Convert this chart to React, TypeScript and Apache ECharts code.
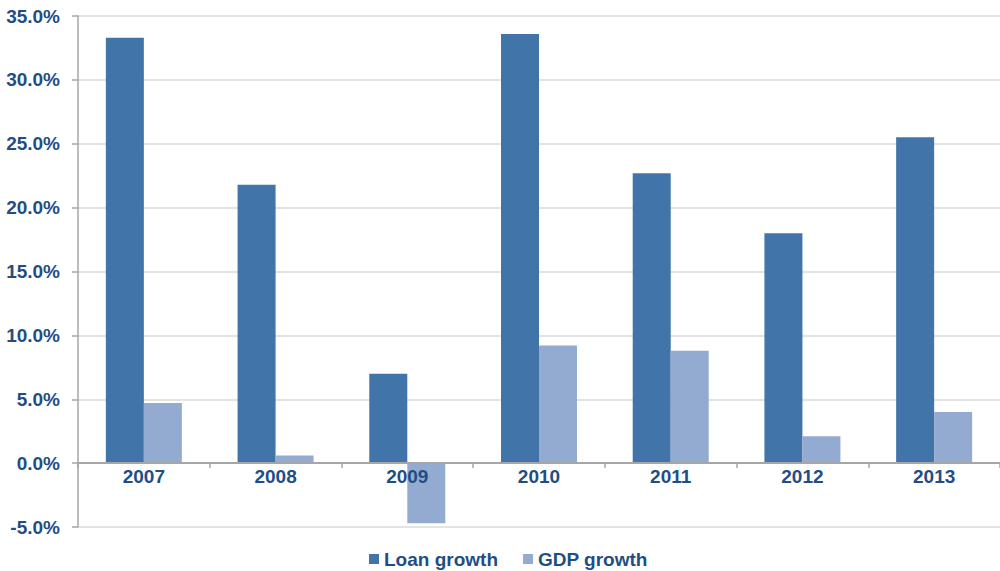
import React, { useEffect, useRef } from "react";
import * as echarts from "echarts";

const categories = ["2007", "2008", "2009", "2010", "2011", "2012", "2013"];
const loanGrowth = [33.3, 21.8, 7.0, 33.6, 22.7, 18.0, 25.5];
const gdpGrowth = [4.7, 0.6, -4.7, 9.2, 8.8, 2.1, 4.0];
const seriesNames = ["Loan growth", "GDP growth"];

const TEXT = "#1F4E86";
const AXIS = "#a6a6a6";

export default function App() {
  const ref = useRef<HTMLDivElement>(null);
  useEffect(() => {
    if (!ref.current) return;
    const chart = echarts.init(ref.current, undefined, { renderer: "svg" });
    chart.setOption({
      animation: false,
      backgroundColor: "#ffffff",
      textStyle: { fontFamily: "Liberation Sans, Arial, sans-serif" },
      grid: { left: 78, width: 924, top: 16, height: 511, containLabel: false },
      legend: {
        data: seriesNames,
        left: 369,
        top: 548,
        padding: 0,
        icon: "rect",
        itemWidth: 10,
        itemHeight: 10,
        itemGap: 25,
        textStyle: { color: TEXT, fontSize: 19, fontWeight: "bold", lineHeight: 22 },
      },
      xAxis: {
        type: "category",
        data: categories,
        offset: -63.9,
        z: 10,
        axisLine: { onZero: false, lineStyle: { color: AXIS, width: 2 } },
        axisTick: { show: true, length: 5, lineStyle: { color: AXIS, width: 1.5 } },
        axisLabel: { color: TEXT, fontSize: 19, fontWeight: "bold", margin: 4 },
      },
      yAxis: {
        type: "value",
        min: -5,
        max: 35,
        interval: 5,
        axisLine: { show: true, lineStyle: { color: AXIS, width: 1.5 } },
        axisTick: { show: true, length: 6, lineStyle: { color: AXIS, width: 1.5 } },
        axisLabel: {
          color: TEXT,
          fontSize: 19,
          fontWeight: "bold",
          margin: 18,
          formatter: (v: number) => v.toFixed(1) + "%",
        },
        splitLine: { show: true, lineStyle: { color: "#e3e3e3", width: 2 } },
      },
      series: [
        {
          name: seriesNames[0],
          type: "bar",
          data: loanGrowth,
          barWidth: 38,
          barGap: "0%",
          itemStyle: { color: "#4174A8" },
        },
        {
          name: seriesNames[1],
          type: "bar",
          data: gdpGrowth,
          barWidth: 38,
          barGap: "0%",
          itemStyle: { color: "#93ABD0" },
        },
      ],
    });
    return () => chart.dispose();
  }, []);
  return <div ref={ref} style={{ width: 1000, height: 571, position: "absolute", left: 0, top: 0 }} />;
}
